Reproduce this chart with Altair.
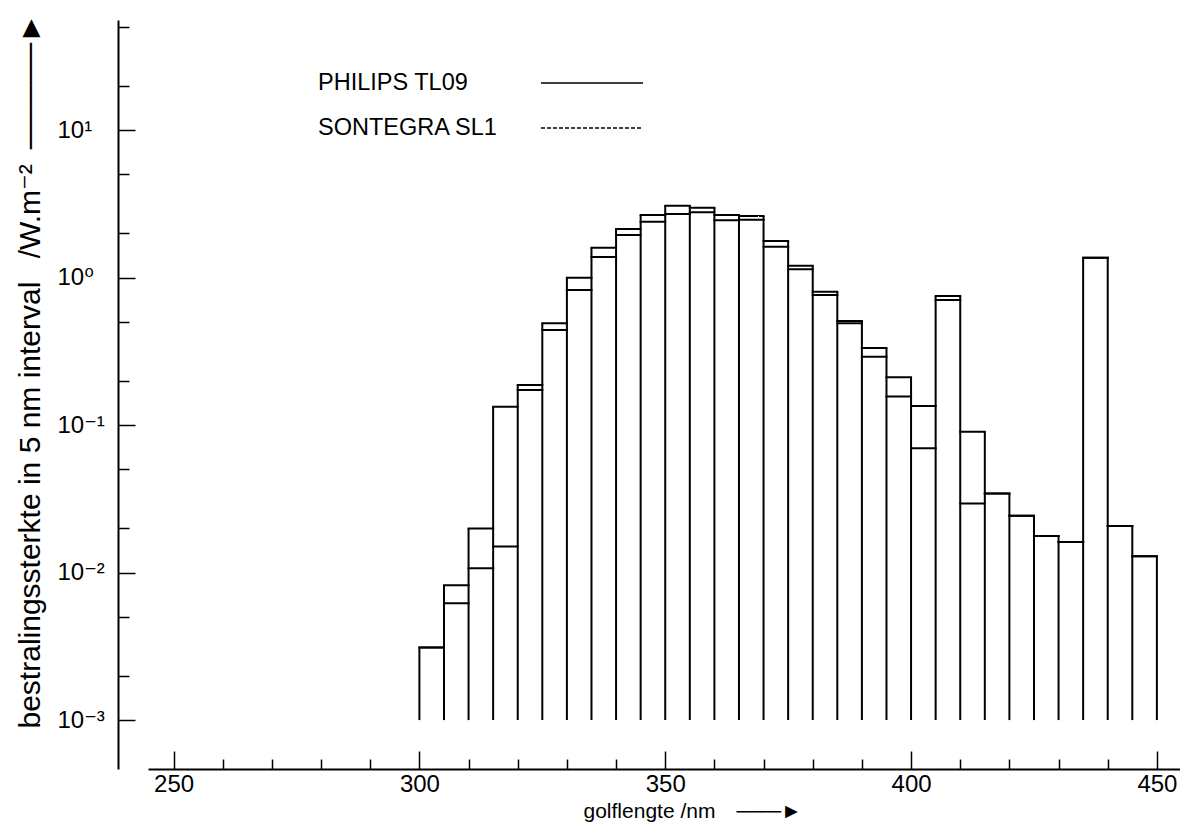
import altair as alt
import pandas as pd

# ---- data ----
bin_start = [300, 305, 310, 315, 320, 325, 330, 335, 340, 345,
             350, 355, 360, 365, 370, 375, 380, 385, 390, 395,
             400, 405, 410, 415, 420, 425, 430, 435, 440, 445]
bin_width = 5
philips = [0.0031, 0.0082, 0.0199, 0.133, 0.173, 0.441, 0.823, 1.38, 1.94, 2.39,
           3.07, 2.77, 2.45, 2.46, 1.62, 1.14, 0.761, 0.489, 0.290, 0.156,
           0.1345, 0.749, 0.0901, 0.0344, 0.0243, 0.0177, 0.0161, 1.36, 0.0207, 0.0129]
sontegra = [0.0031, 0.0062, 0.0107, 0.0150, 0.187, 0.489, 0.997, 1.59, 2.13, 2.65,
            2.70, 2.97, 2.65, 2.61, 1.77, 1.20, 0.801, 0.507, 0.333, 0.211,
            0.0695, 0.704, 0.0294, 0.0344, 0.0243, 0.0177, 0.0161, 1.36, 0.0207, 0.0129]
series_names = ["PHILIPS TL09", "SONTEGRA SL1"]
base_value = 0.001

x_tick_values = list(range(250, 451, 10))
x_major_step = 50
y_tick_values = [0.001, 0.002, 0.005, 0.01, 0.02, 0.05, 0.1, 0.2, 0.5,
                 1, 2, 5, 10, 20, 50]
y_label_values = [0.001, 0.01, 0.1, 1, 10]
y_tick_labels = ["10\u207b\u00b3", "10\u207b\u00b2", "10\u207b\u00b9", "10\u2070", "10\u00b9"]

x_title = "golflengte /nm\u2002\u2002\u2500\u2500\u2500\u25ba"
y_title = "bestralingssterkte in 5 nm interval \u2002/W.m\u207b\u00b2\u2002\u2500\u2500\u2500\u2500\u2500\u25ba"

FONT = "Liberation Sans, Arial, DejaVu Sans"

# ---- tables ----
tops_rows = []
for name, vals in [(series_names[1], sontegra), (series_names[0], philips)]:
    for s, v in zip(bin_start, vals):
        tops_rows.append({"series": name, "start": s, "end": s + bin_width, "value": v})
tops = pd.DataFrame(tops_rows)

edges_rows = []
n = len(bin_start)
for i in range(n + 1):
    cands = []
    if i > 0:
        cands += [philips[i - 1], sontegra[i - 1]]
    if i < n:
        cands += [philips[i], sontegra[i]]
    edge = bin_start[i] if i < n else bin_start[-1] + bin_width
    edges_rows.append({"edge": edge, "top": max(cands), "base": base_value})
edges = pd.DataFrame(edges_rows)

# ---- scales & axes ----
xscale = alt.Scale(domain=[244.8, 454.7], nice=False, zero=False)
yscale = alt.Scale(type="log", domain=[4.66e-4, 55.7], nice=False, zero=False)

y_major_test = " || ".join(f"datum.value == {v}" for v in y_label_values)
y_label_expr = " : ".join(f"datum.value == {v} ? '{t}'" for v, t in zip(y_label_values, y_tick_labels)) + " : ''"

xaxis = alt.Axis(
    values=x_tick_values,
    labelExpr=f"(datum.value % {x_major_step} == 0) ? format(datum.value, 'd') : ''",
    tickSize={"condition": {"test": f"datum.value % {x_major_step} == 0", "value": -18}, "value": -10},
    tickColor="black", tickWidth=1.5,
    domainColor="black", domainWidth=2,
    labelFont=FONT, labelFontSize=24, labelColor="black",
    labelPadding=33, labelBaseline="middle", labelFlush=False, labelOverlap=False,
    title=x_title, titleFont=FONT, titleFontSize=21, titleFontWeight="normal",
    titleColor="black", titleX=435, titleY=42, titleAlign="left", titleBaseline="middle",
    grid=False,
)
yaxis = alt.Axis(
    values=y_tick_values,
    labelExpr=y_label_expr,
    tickSize={"condition": {"test": y_major_test, "value": -17}, "value": -11},
    tickColor="black", tickWidth=1.5,
    domainColor="black", domainWidth=2,
    offset=30,
    labelFont=FONT, labelFontSize=24, labelColor="black",
    labelPadding=78, labelAlign="left", labelBaseline="middle",
    labelFlush=False, labelOverlap=False,
    title=y_title, titleFont=FONT, titleFontSize=30, titleFontWeight="normal",
    titleColor="black", titleAngle=270, titleX=-88, titleY=708,
    titleAlign="left", titleBaseline="middle",
    grid=False,
)


def X(field):
    return alt.X(f"{field}:Q", scale=xscale, axis=xaxis)


def Y(field):
    return alt.Y(f"{field}:Q", scale=yscale, axis=yaxis)


edges_layer = alt.Chart(edges).mark_rule(color="black", strokeWidth=2).encode(
    x=X("edge"), y=Y("top"), y2="base:Q"
)

tops_layer = alt.Chart(tops).mark_rule(color="black", strokeWidth=2, strokeCap="square").encode(
    x=X("start"), x2="end:Q", y=Y("value"),
    strokeDash=alt.StrokeDash("series:N", scale=alt.Scale(domain=series_names, range=[[1, 0], [5, 2]]), legend=None),
)

# ---- legend (drawn as text + sample lines) ----
legend_layers = []
legend_y = [63, 108]
dashes = [[1, 0], [4, 2]]
for name, ly, dash in zip(series_names, legend_y, dashes):
    ldf = pd.DataFrame({"label": [name]})
    legend_layers.append(
        alt.Chart(ldf).mark_text(align="left", baseline="middle", font=FONT, fontSize=23.5, color="black").encode(
            x=alt.value(170), y=alt.value(ly), text="label:N"
        )
    )
    legend_layers.append(
        alt.Chart(ldf).mark_rule(color="black", strokeWidth=1.5, strokeDash=dash).encode(
            x=alt.value(393), x2=alt.value(495), y=alt.value(ly)
        )
    )

chart = alt.layer(tops_layer, edges_layer, *legend_layers).properties(
    width=1032, height=749,
    autosize=alt.AutoSizeParams(type="none"),
    padding={"left": 140, "top": 12, "right": 0, "bottom": 53},
    background="white",
).configure_view(stroke=None)

chart.save("out.html", embed_options={"renderer": "svg", "actions": False})
